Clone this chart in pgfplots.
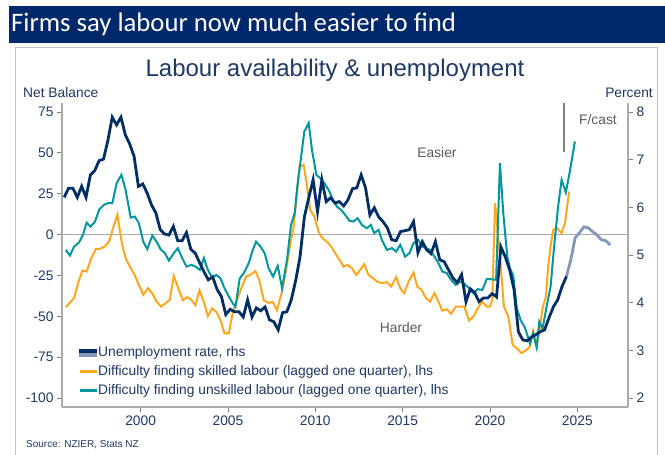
\documentclass[border=0pt]{standalone}
\usepackage{pgfplots}
\usepackage{pgfplotstable}
\pgfplotsset{compat=1.18}
\usepackage{fontspec}
\setmainfont{Liberation Sans}
\newfontfamily\bannerfont{Carlito}

\definecolor{banner}{RGB}{0,41,107}
\definecolor{navyline}{RGB}{0,45,100}
\definecolor{fcast}{RGB}{132,151,185}
\definecolor{skilled}{RGB}{255,167,30}
\definecolor{unskilled}{RGB}{0,150,158}
\definecolor{txt}{RGB}{31,56,100}
\definecolor{note}{RGB}{89,89,89}
\definecolor{panel}{RGB}{191,191,191}
\definecolor{axisgray}{RGB}{170,170,170}

% unemployment rate, percent (rhs)
\pgfplotstableread{
t v
1995.625 6.21
1995.875 6.40
1996.125 6.40
1996.375 6.21
1996.625 6.44
1996.875 6.21
1997.125 6.68
1997.375 6.77
1997.625 6.98
1997.875 7.01
1998.125 7.40
1998.375 7.89
1998.625 7.73
1998.875 7.89
1999.125 7.52
1999.375 7.33
1999.625 7.07
1999.875 6.44
2000.125 6.49
2000.375 6.30
2000.625 6.05
2000.875 5.88
2001.125 5.53
2001.375 5.44
2001.625 5.42
2001.875 5.60
2002.125 5.30
2002.375 5.30
2002.625 5.47
2002.875 5.12
2003.125 5.04
2003.375 4.84
2003.625 4.65
2003.875 4.48
2004.125 4.54
2004.375 4.28
2004.625 4.13
2004.875 3.75
2005.125 3.86
2005.375 3.81
2005.625 3.81
2005.875 3.70
2006.125 4.06
2006.375 3.70
2006.625 3.89
2006.875 3.83
2007.125 3.91
2007.375 3.64
2007.625 3.60
2007.875 3.43
2008.125 3.79
2008.375 3.81
2008.625 4.06
2008.875 4.46
2009.125 4.96
2009.375 5.80
2009.625 6.20
2009.875 6.58
2010.125 5.91
2010.375 6.58
2010.625 6.12
2010.875 6.20
2011.125 6.09
2011.375 6.12
2011.625 6.03
2011.875 6.16
2012.125 6.39
2012.375 6.41
2012.625 6.68
2012.875 6.41
2013.125 5.84
2013.375 5.99
2013.625 5.80
2013.875 5.70
2014.125 5.57
2014.375 5.32
2014.625 5.30
2014.875 5.49
2015.125 5.51
2015.375 5.53
2015.625 5.70
2015.875 5.05
2016.125 5.28
2016.375 5.11
2016.625 5.03
2016.875 5.28
2017.125 4.90
2017.375 4.86
2017.625 4.69
2017.875 4.52
2018.125 4.42
2018.375 4.59
2018.625 4.02
2018.875 4.29
2019.125 4.21
2019.375 4.02
2019.625 4.10
2019.875 4.10
2020.125 4.19
2020.375 4.12
2020.625 5.17
2020.875 4.96
2021.125 4.69
2021.375 4.28
2021.625 3.39
2021.875 3.22
2022.125 3.20
2022.375 3.28
2022.625 3.33
2022.875 3.39
2023.125 3.43
2023.375 3.68
2023.625 3.91
2023.875 4.06
2024.125 4.34
2024.375 4.55
}\unemp

% unemployment forecast
\pgfplotstableread{
t v
2024.375 4.55
2024.625 4.90
2024.875 5.36
2025.125 5.47
2025.375 5.59
2025.625 5.57
2025.875 5.49
2026.125 5.42
2026.375 5.32
2026.625 5.30
2026.875 5.21
}\fcst

% difficulty finding skilled labour, net balance (lhs)
\pgfplotstableread{
t v
1995.71 -44.4
1995.96 -41.6
1996.19 -38.9
1996.42 -29.7
1996.67 -22.0
1996.91 -22.6
1997.18 -14.4
1997.43 -8.9
1997.67 -8.7
1997.94 -7.3
1998.19 -4.3
1998.42 3.9
1998.67 12.1
1998.91 -4.3
1999.14 -14.4
1999.39 -19.6
1999.66 -24.7
1999.90 -30.8
2000.15 -36.9
2000.42 -32.8
2000.67 -35.9
2000.91 -41.0
2001.18 -44.1
2001.43 -42.0
2001.67 -40.0
2001.90 -25.3
2002.19 -33.9
2002.42 -40.2
2002.67 -38.2
2002.90 -39.8
2003.14 -43.3
2003.37 -34.1
2003.62 -41.2
2003.85 -49.9
2004.10 -45.2
2004.33 -47.2
2004.57 -52.3
2004.80 -60.4
2005.05 -60.4
2005.27 -48.1
2005.53 -39.8
2005.77 -32.6
2006.04 -25.6
2006.29 -24.7
2006.57 -22.3
2006.80 -27.9
2007.05 -40.2
2007.33 -41.8
2007.56 -41.2
2007.81 -46.3
2008.06 -36.1
2008.29 -23.9
2008.57 -6.0
2008.76 4.9
2008.95 25.3
2009.10 41.6
2009.33 42.7
2009.53 29.4
2009.71 15.1
2009.94 11.0
2010.19 1.8
2010.33 -1.2
2010.50 -3.0
2010.67 -4.3
2010.90 -7.3
2011.14 -11.4
2011.39 -15.5
2011.62 -19.6
2011.85 -18.5
2012.10 -20.6
2012.34 -24.7
2012.57 -21.6
2012.80 -18.1
2013.05 -24.7
2013.30 -26.7
2013.56 -28.8
2013.81 -29.7
2014.10 -29.1
2014.34 -31.8
2014.63 -26.1
2014.86 -32.8
2015.09 -35.9
2015.33 -29.0
2015.62 -23.3
2015.85 -32.2
2016.06 -33.4
2016.33 -38.9
2016.57 -41.0
2016.82 -35.9
2017.05 -41.0
2017.27 -46.5
2017.53 -45.7
2017.77 -48.5
2018.04 -44.1
2018.29 -44.1
2018.53 -44.1
2018.80 -52.6
2019.05 -50.2
2019.30 -45.0
2019.56 -41.0
2019.81 -44.1
2020.00 -44.1
2020.13 -40.0
2020.29 19.2
2020.57 -13.5
2020.80 -44.1
2021.05 -50.2
2021.30 -67.5
2021.53 -69.5
2021.81 -72.5
2022.10 -70.5
2022.29 -68.5
2022.47 -59.0
2022.67 -68.5
2022.82 -60.0
2023.01 -45.0
2023.20 -38.0
2023.33 -20.0
2023.47 -7.0
2023.62 2.9
2023.85 3.9
2024.10 0.9
2024.29 7.0
2024.53 26.3
}\skill

% difficulty finding unskilled labour, net balance (lhs)
\pgfplotstableread{
t v
1995.71 -9.4
1995.96 -12.8
1996.19 -7.3
1996.47 -4.9
1996.70 -0.2
1996.91 7.3
1997.14 4.9
1997.39 8.0
1997.64 15.5
1997.90 18.2
1998.13 19.2
1998.38 19.2
1998.63 31.5
1998.90 36.5
1999.14 27.4
1999.43 10.4
1999.67 11.0
1999.90 7.0
2000.15 -4.3
2000.38 -8.9
2000.67 -0.6
2000.91 -4.3
2001.14 -8.9
2001.39 -11.4
2001.62 -15.9
2001.90 -11.4
2002.13 -8.3
2002.38 -14.4
2002.63 -19.6
2002.90 -18.5
2003.14 -19.6
2003.39 -21.6
2003.62 -14.4
2003.85 -21.6
2004.10 -26.5
2004.33 -24.7
2004.57 -26.7
2004.80 -32.8
2005.05 -37.9
2005.27 -42.0
2005.43 -44.2
2005.67 -27.0
2005.90 -23.6
2006.19 -17.5
2006.42 -9.4
2006.61 -4.3
2006.86 -7.3
2007.10 -11.4
2007.33 -20.6
2007.58 -25.7
2007.85 -19.2
2008.10 -32.8
2008.38 -15.5
2008.61 6.0
2008.82 13.1
2008.99 31.5
2009.18 46.8
2009.37 63.0
2009.62 68.2
2009.81 51.8
2010.06 36.5
2010.29 34.5
2010.51 31.5
2010.76 27.4
2011.01 21.3
2011.24 17.1
2011.47 15.1
2011.71 12.1
2011.96 8.4
2012.19 8.0
2012.42 10.0
2012.67 5.9
2012.95 3.9
2013.18 5.9
2013.37 0.9
2013.62 2.9
2013.81 -3.2
2014.10 -9.4
2014.38 -8.3
2014.63 -10.4
2014.86 -6.3
2015.14 -13.5
2015.39 -11.4
2015.62 -5.3
2015.90 -3.2
2016.10 -7.3
2016.33 -8.3
2016.57 -9.4
2016.82 -13.5
2017.05 -17.5
2017.27 -22.6
2017.53 -23.6
2017.77 -27.7
2018.04 -30.8
2018.29 -28.7
2018.53 -30.2
2018.80 -32.8
2019.05 -35.9
2019.30 -33.4
2019.56 -33.9
2019.81 -27.3
2020.06 -27.3
2020.35 -27.7
2020.57 43.7
2020.76 13.1
2020.99 -13.5
2021.14 -20.6
2021.33 -25.0
2021.53 -45.0
2021.75 -52.2
2022.00 -57.0
2022.29 -66.5
2022.47 -60.4
2022.67 -69.0
2022.82 -53.3
2023.01 -57.5
2023.24 -44.1
2023.47 -31.8
2023.67 -7.3
2023.90 17.2
2024.10 33.5
2024.34 25.7
2024.57 38.6
2024.86 57.0
}\unskill

\pgfplotsset{
  base/.style={
    at={(62bp,-407bp)}, anchor=south west, scale only axis,
    width=566bp, height=304bp,
    xmin=1995.5, xmax=2027.9,
    axis line style={draw=axisgray, line width=1.2bp, -},
    tick align=outside, major tick length=5bp,
    tick style={draw=gray, line width=0.8bp},
    ticklabel style={font=\fontsize{13.8bp}{16bp}\selectfont, text=txt},
    /pgf/number format/assume math mode=true,
    /pgf/number format/1000 sep={},
  },
}

\begin{document}
\begin{tikzpicture}
\path[use as bounding box] (0,0) rectangle (665bp,-455bp);
\fill[banner] (9bp,-6bp) rectangle (665bp,-43bp);
\node[anchor=west, inner sep=0pt, text=white, font=\bannerfont\fontsize{26.7bp}{30bp}\selectfont]
  at (11bp,-24.5bp) {Firms say labour now much easier to find};
\draw[panel, line width=1bp] (15bp,-47bp) rectangle (657bp,-470bp);
\node[inner sep=0pt, text=txt, font=\fontsize{24bp}{28bp}\selectfont]
  at (335bp,-70bp) {Labour availability \& unemployment};
\node[anchor=west, inner sep=0pt, text=txt, font=\fontsize{13.8bp}{16bp}\selectfont]
  at (23bp,-93bp) {Net Balance};
\node[anchor=east, inner sep=0pt, text=txt, font=\fontsize{13.8bp}{16bp}\selectfont]
  at (653bp,-93bp) {Percent};
\node[anchor=west, inner sep=0pt, text=txt, font=\fontsize{10bp}{12bp}\selectfont]
  at (26bp,-445bp) {Source: NZIER, Stats NZ};

\begin{axis}[base,
  ymin=-105.5, ymax=80.5,
  axis x line*=bottom, axis y line*=left,
  xtick={2000,2005,...,2025}, ytick={-100,-75,...,75},
]
\draw[axisgray, line width=1.2bp] (axis cs:1995.5,0) -- (axis cs:2027.9,0);
\addplot[skilled, line width=2bp] table {\skill};
\addplot[unskilled, line width=2bp] table {\unskill};
\end{axis}

\begin{axis}[base,
  ymin=1.811429, ymax=8.188571,
  axis x line=none, axis y line*=right,
  ytick={2,...,8},
  legend style={draw=none, fill=white, at={(0.0212,0.2105)}, anchor=north west,
    font=\fontsize{13.8bp}{16bp}\selectfont, text=txt,
    inner xsep=4bp, inner ysep=3bp, row sep=6bp,
    nodes={inner sep=0bp, text height=10bp, text depth=3bp},
    /tikz/every even column/.append style={column sep=2bp}},
  legend cell align=left,
]
\addlegendimage{legend image code/.code={
  \fill[navyline] (0bp,0bp) rectangle (17bp,3.5bp);
  \fill[fcast] (0bp,-3.5bp) rectangle (17bp,0bp);}}
\addlegendentry{Unemployment rate, rhs}
\addlegendimage{legend image code/.code={\draw[skilled, line width=3bp] (0bp,0bp) -- (17bp,0bp);}}
\addlegendentry{Difficulty finding skilled labour (lagged one quarter), lhs}
\addlegendimage{legend image code/.code={\draw[unskilled, line width=3bp] (0bp,0bp) -- (17bp,0bp);}}
\addlegendentry{Difficulty finding unskilled labour (lagged one quarter), lhs}
\addplot[fcast, line width=2.8bp, forget plot] table {\fcst};
\addplot[navyline, line width=2.8bp, forget plot] table {\unemp};
\end{axis}

\node[inner sep=0pt, text=note, font=\fontsize{13.8bp}{16bp}\selectfont] at (437bp,-153bp) {Easier};
\node[inner sep=0pt, text=note, font=\fontsize{13.8bp}{16bp}\selectfont] at (401bp,-328bp) {Harder};
\node[inner sep=0pt, text=note, font=\fontsize{13.8bp}{16bp}\selectfont] at (598bp,-120bp) {F/cast};
\draw[gray, line width=1.2bp] (564bp,-103bp) -- (564bp,-152bp);
\end{tikzpicture}
\end{document}
